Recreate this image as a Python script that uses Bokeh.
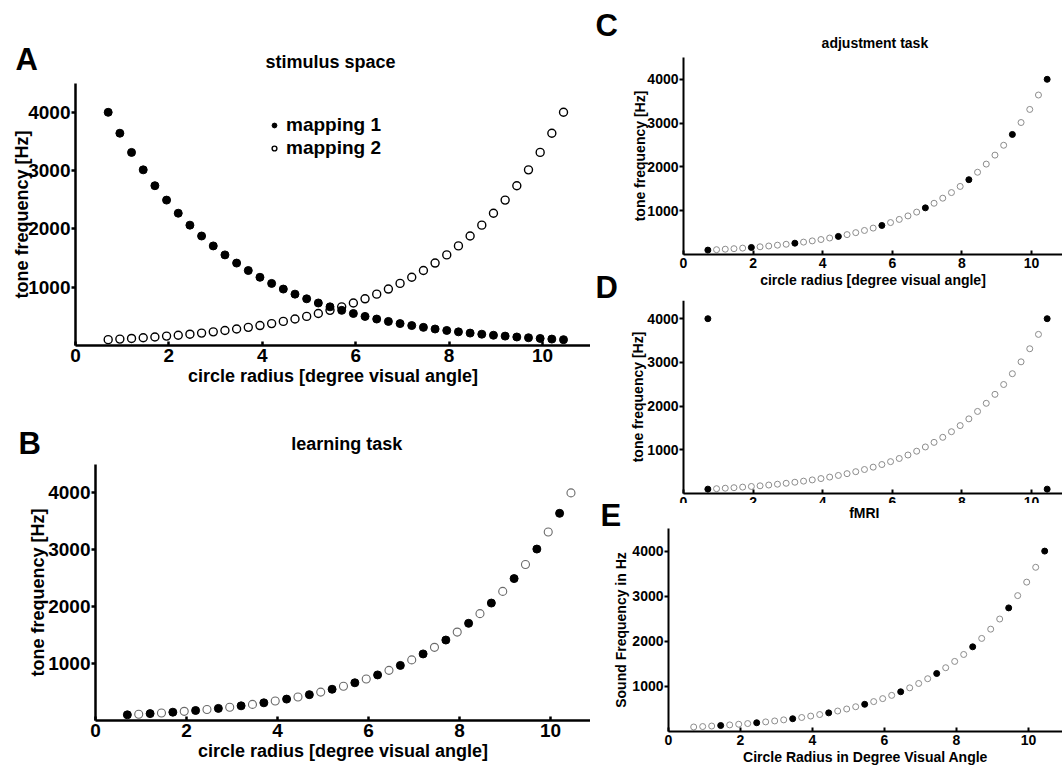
from bokeh.plotting import figure
from bokeh.layouts import row, column
from bokeh.models import Label, FixedTicker, Legend, Range1d
from bokeh.embed import file_html
from bokeh.resources import INLINE

FONT = "Liberation Sans"

# ---------------- data ----------------
radius = [0.70, 0.95, 1.20, 1.45, 1.70, 1.95, 2.20, 2.45, 2.70, 2.95,
          3.20, 3.45, 3.70, 3.95, 4.20, 4.45, 4.70, 4.95, 5.20, 5.45,
          5.70, 5.95, 6.20, 6.45, 6.70, 6.95, 7.20, 7.45, 7.70, 7.95,
          8.20, 8.45, 8.70, 8.95, 9.20, 9.45, 9.70, 9.95, 10.20, 10.45]
mapping2_hz = [100, 110, 121, 133, 146, 161, 176, 194, 213, 234,
               258, 283, 311, 342, 376, 413, 454, 499, 549, 603,
               663, 729, 801, 881, 968, 1065, 1170, 1286, 1414, 1554,
               1708, 1878, 2064, 2269, 2494, 2741, 3013, 3312, 3641, 4000]
mapping1_hz = [4000, 3641, 3312, 3013, 2741, 2494, 2269, 2064, 1878, 1708,
               1554, 1414, 1286, 1170, 1065, 968, 881, 801, 729, 663,
               603, 549, 499, 454, 413, 376, 342, 311, 283, 258,
               234, 213, 194, 176, 161, 146, 133, 121, 110, 100]
x_ticks = [0, 2, 4, 6, 8, 10]
y_ticks = [1000, 2000, 3000, 4000]
y_axis_top = 4500

learning_filled_idx = [0, 2, 4, 6, 8, 10, 12, 14, 16, 18, 20, 22, 24, 26, 28, 30, 32, 34, 36, 38]
adjust_filled_idx = [0, 5, 10, 15, 20, 25, 30, 35, 39]
fmri_filled_idx = [3, 7, 11, 15, 19, 23, 27, 31, 35, 39]
d_filled_x = [0.70, 0.70, 10.45, 10.45]
d_filled_y = [100, 4000, 4000, 100]


def split(idx):
    fx = [radius[i] for i in idx]
    fy = [mapping2_hz[i] for i in idx]
    ox = [radius[i] for i in range(len(radius)) if i not in idx]
    oy = [mapping2_hz[i] for i in range(len(radius)) if i not in idx]
    return fx, fy, ox, oy


def make_fig(w, h, x0, sx, y0, sy, fs_tick, fs_lab, xlabel, ylabel, lw, ylab_standoff):
    """x0/y0: pixel position of the data origin inside the canvas,
    sx: pixels per x unit, sy: pixels per 1000 Hz."""
    xr = Range1d(-x0 / sx, (w - x0) / sx)
    yr = Range1d(-(h - y0) / sy * 1000, y0 / sy * 1000)
    p = figure(width=w, height=h, x_range=xr, y_range=yr, title=None,
               output_backend="svg", toolbar_location=None,
               min_border_left=0, min_border_right=0, min_border_top=0, min_border_bottom=0)
    p.outline_line_color = None
    p.xgrid.visible = False
    p.ygrid.visible = False
    p.background_fill_color = "white"
    p.border_fill_color = "white"
    for ax in (p.xaxis[0], p.yaxis[0]):
        ax.fixed_location = 0
        ax.axis_line_width = lw
        ax.axis_line_color = "black"
        ax.major_tick_line_width = lw
        ax.major_tick_line_color = "black"
        ax.minor_tick_line_color = None
        ax.major_label_text_font = FONT
        ax.major_label_text_font_style = "bold"
        ax.major_label_text_font_size = fs_tick
        ax.major_label_text_color = "black"
        ax.axis_label_text_font = FONT
        ax.axis_label_text_font_style = "bold"
        ax.axis_label_text_font_size = fs_lab
        ax.axis_label_text_color = "black"
    p.xaxis.bounds = (0, (w - x0) / sx)
    p.yaxis.bounds = (0, y_axis_top)
    p.xaxis.ticker = FixedTicker(ticks=x_ticks)
    p.yaxis.ticker = FixedTicker(ticks=y_ticks)
    p.xaxis.major_tick_in = 4
    p.xaxis.major_tick_out = 0
    p.yaxis.major_tick_in = 0
    p.yaxis.major_tick_out = 4
    p.xaxis.major_label_standoff = 3
    p.yaxis.major_label_standoff = 1
    p.xaxis.axis_label_standoff = 1
    p.yaxis.axis_label_standoff = ylab_standoff
    p.xaxis.axis_label = xlabel
    p.yaxis.axis_label = ylabel
    return p


def text(p, txt, x, y, size, align="left"):
    p.add_layout(Label(x=x, y=y, text=txt, text_font=FONT, text_font_style="bold",
                       text_font_size=size, text_color="black",
                       text_align=align, text_baseline="alphabetic"))


# ---------------- A: stimulus space ----------------
pA = make_fig(590, 392, 75, 46.7, 345, 58.3, "19px", "18px",
              "circle radius [degree visual angle]", "tone frequency [Hz]", 2.5, -7)
r1 = pA.scatter(radius, mapping1_hz, marker="circle", size=8,
                fill_color="black", line_color="black")
r2 = pA.scatter(radius, mapping2_hz, marker="circle", size=8,
                fill_color=None, line_color="black", line_width=1.4)
leg = Legend(items=[("mapping 1", [r1]), ("mapping 2", [r2])], location=(268, 233),
             label_text_font=FONT, label_text_font_style="bold", label_text_font_size="19px",
             label_text_color="black",
             glyph_width=12, glyph_height=12, label_standoff=6, spacing=1, padding=0, margin=0,
             border_line_color=None, background_fill_alpha=0)
pA.add_layout(leg)
text(pA, "stimulus space", 5.46, 4871, "18px", "center")
text(pA, "A", -1.285, 4906, "31px")

# ---------------- B: learning task ----------------
fx, fy, ox, oy = split(learning_filled_idx)
pB = make_fig(590, 375, 95, 45.5, 328, 56.9, "19px", "18px",
              "circle radius [degree visual angle]", "tone frequency [Hz]", 2.5, -3)
pB.scatter(ox, oy, marker="circle", size=8, fill_color=None, line_color="#6a6a6a", line_width=1.1)
pB.scatter(fx, fy, marker="circle", size=8, fill_color="black", line_color="black")
text(pB, "learning task", 5.52, 4868, "18px", "center")
text(pB, "B", -1.69, 4868, "31px")

# ---------------- C: adjustment task ----------------
fx, fy, ox, oy = split(adjust_filled_idx)
pC = make_fig(472, 300, 93, 34.8, 254, 43.8, "14px", "14px",
              "circle radius [degree visual angle]", "tone frequency [Hz]", 2, -4)
pC.scatter(ox, oy, marker="circle", size=6, fill_color=None, line_color="#8c8c8c", line_width=1)
pC.scatter(fx, fy, marker="circle", size=6, fill_color="black", line_color="black")
text(pC, "adjustment task", 5.50, 4840, "14px", "center")
text(pC, "C", -2.53, 5228, "31px")
text(pC, "D", -2.53, -753, "31px")

# ---------------- D ----------------
ox = radius[1:39]
oy = mapping2_hz[1:39]
pD = make_fig(472, 203, 93, 34.8, 193, 43.7, "14px", "14px",
              "", "tone frequency [Hz]", 2, -2)
pD.scatter(ox, oy, marker="circle", size=6, fill_color=None, line_color="#8c8c8c", line_width=1)
pD.scatter(d_filled_x, d_filled_y, marker="circle", size=6, fill_color="black", line_color="black")

# ---------------- E: fMRI ----------------
fx, fy, ox, oy = split(fmri_filled_idx)
pE = make_fig(472, 264, 78, 36.0, 228, 45.1, "14px", "14px",
              "Circle Radius in Degree Visual Angle", "Sound Frequency in Hz", 2, 0)
pE.scatter(ox, oy, marker="circle", size=6, fill_color=None, line_color="#8c8c8c", line_width=1)
pE.scatter(fx, fy, marker="circle", size=6, fill_color="black", line_color="black")
text(pE, "fMRI", 5.44, 4834, "14px", "center")
text(pE, "E", -1.89, 4800, "31px")

layout = row(column(row(pA), row(pB)), column(row(pC), row(pD), row(pE)))
open("out.html", "w").write(file_html(layout, INLINE))
